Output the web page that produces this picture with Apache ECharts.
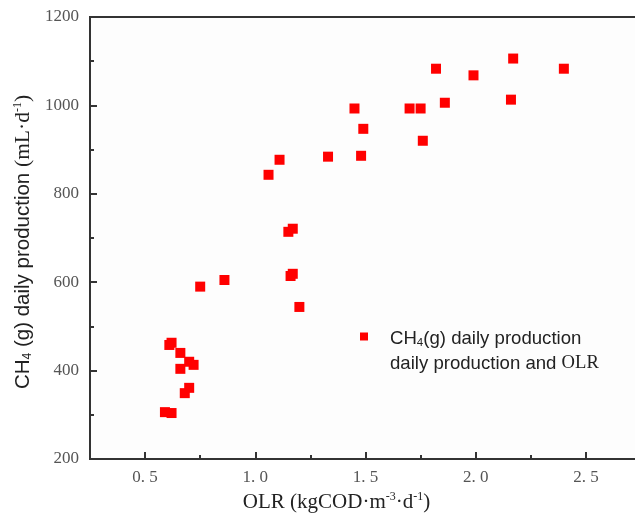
<!DOCTYPE html>
<html>
<head>
<meta charset="utf-8">
<script src="https://cdn.jsdelivr.net/npm/echarts@6/dist/echarts.min.js"></script>
<style>
  html, body { margin: 0; padding: 0; background: #fff; }
  #chart { width: 635px; height: 517px; }
</style>
</head>
<body>
<div id="chart"></div>
<script>
  // OLR (kgCOD·m-3·d-1)
  var olr = [0.59, 0.62, 0.61, 0.62, 0.66, 0.70, 0.72, 0.66, 0.70, 0.68,
             0.75, 0.86, 1.16, 1.17, 1.20, 1.06, 1.11, 1.15, 1.17, 1.33,
             1.45, 1.49, 1.48, 1.70, 1.75, 1.76, 1.82, 1.86, 1.99, 2.16,
             2.17, 2.40];
  // CH4(g) 日产量 (mL·d-1)
  var ch4 = [306, 304, 458, 463, 440, 420, 413, 404, 361, 349,
             590, 605, 614, 619, 544, 843, 877, 714, 721, 884,
             993, 947, 886, 993, 993, 920, 1083, 1006, 1068, 1013,
             1106, 1083];
  var xMajorTicks = [0.5, 1.0, 1.5, 2.0, 2.5];
  var xMinorTicks = [0.75, 1.25, 1.75, 2.25];
  var seriesName = 'CH4(g) daily production';

  var points = olr.map(function (x, i) { return [x, ch4[i]]; });

  var serif = "'Liberation Serif', 'DejaVu Serif', serif";
  var sans = "'Liberation Sans', Arial, sans-serif";

  var chart = echarts.init(document.getElementById('chart'));
  var option = {
    backgroundColor: '#fff',
    animation: false,
    grid: {
      left: 90, top: 17, bottom: 58, width: 551,
      outerBoundsMode: 'none',
      containLabel: false,
      show: true,
      borderColor: '#333',
      borderWidth: 2,
      backgroundColor: '#fdfdfd'
    },
    legend: {
      left: 360,
      top: 326,
      padding: 0,
      itemWidth: 8,
      itemHeight: 37,
      data: [{ name: seriesName, icon: 'path://M0,0L8,0L8,8L0,8Z M0,37' }],
      formatter: function () {
        return '{s|CH}{sub|4}{s|(g) daily production}\n{s|daily production and }{r|OLR}';
      },
      textStyle: {
        padding: [0, 0, 0, 17],
        lineHeight: 25,
        rich: {
          s: { fontFamily: sans, fontSize: 18.6, color: '#222', lineHeight: 25 },
          sub: { fontFamily: sans, fontSize: 11.5, color: '#222', padding: [8, 0, 0, 0], lineHeight: 25 },
          r: { fontFamily: serif, fontSize: 18.6, color: '#222', lineHeight: 25 }
        }
      }
    },
    xAxis: [{
      type: 'value',
      min: 0.25,
      max: 2.75,
      name: '{r|OLR (kgCOD·m}{sup|-3}{r|·d}{sup|-1}{r|)}',
      nameLocation: 'middle',
      nameGap: 31,
      nameTextStyle: {
        padding: [0, 58, 0, 0],
        rich: {
          r: { fontFamily: serif, fontSize: 21, color: '#222' },
          sup: { fontFamily: serif, fontSize: 12, color: '#222', padding: [0, 0, 11, 0] }
        }
      },
      axisLine: { lineStyle: { color: '#333', width: 2 } },
      axisTick: { inside: true, length: 7, customValues: xMajorTicks, lineStyle: { color: '#333', width: 2 } },
      axisLabel: {
        customValues: xMajorTicks,
        margin: 10,
        fontFamily: serif,
        fontSize: 17,
        color: '#555',
        formatter: function (v) { return v.toFixed(1).replace('.', '. '); }
      },
      splitLine: { show: false }
    }, {
      type: 'value',
      min: 0.25,
      max: 2.75,
      position: 'bottom',
      axisLine: { show: false },
      axisTick: { inside: true, length: 4, customValues: xMinorTicks, lineStyle: { color: '#333', width: 2 } },
      axisLabel: { show: false },
      splitLine: { show: false }
    }],
    yAxis: {
      type: 'value',
      min: 200,
      max: 1200,
      interval: 200,
      name: '{s|CH}{sub|4}{s| (g) daily production }{r|(mL·d}{sup|-1}{r|)}',
      nameLocation: 'middle',
      nameGap: 47,
      nameTextStyle: {
        padding: [0, 8, 0, 0],
        rich: {
          s: { fontFamily: sans, fontSize: 20.5, color: '#222' },
          sub: { fontFamily: sans, fontSize: 12, color: '#222', padding: [9, 0, 0, 0] },
          r: { fontFamily: serif, fontSize: 21.5, color: '#222' },
          sup: { fontFamily: serif, fontSize: 12, color: '#222', padding: [0, 0, 11, 0] }
        }
      },
      axisLine: { show: true, lineStyle: { color: '#333', width: 2 } },
      axisTick: { inside: true, length: 7, lineStyle: { color: '#333', width: 2 } },
      minorTick: { show: true, splitNumber: 2, length: 4, lineStyle: { color: '#333', width: 2 } },
      axisLabel: {
        margin: 11, fontFamily: serif, fontSize: 17, color: '#555',
        formatter: function (v) { return String(v); }
      },
      splitLine: { show: false }
    },
    series: [{
      name: seriesName,
      type: 'scatter',
      symbol: 'rect',
      symbolSize: 10,
      itemStyle: { color: '#ff0000', opacity: 1 },
      data: points
    }]
  };
  chart.setOption(option);
</script>
</body>
</html>
